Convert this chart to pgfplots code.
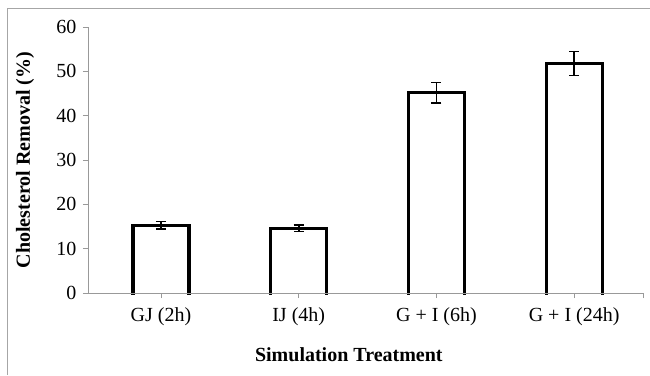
\documentclass[border=0pt]{standalone}
\usepackage{fontspec}
\setmainfont{Liberation Serif}
\usepackage{pgfplots}
\pgfplotsset{compat=1.18}
\begin{document}
\begin{tikzpicture}[x=1pt,y=1pt]
\useasboundingbox (0,0) rectangle (650,375);
\draw[gray!70, line width=1pt] (7,0) -- (7,366) -- (650,366);
\begin{axis}[
  at={(88pt,82pt)}, anchor=south west,
  scale only axis, width=555pt, height=266pt,
  ymin=0, ymax=60, ytick={0,10,...,60},
  xmin=-0.53, xmax=3.5,
  xtick={0,1,2,3},
  xticklabels={GJ (2h), IJ (4h), G + I (6h), G + I (24h)},
  extra x ticks={3.5}, extra x tick labels={},
  axis x line=bottom, axis y line=left,
  axis line style={gray!80, line width=0.8pt, -},
  tick style={gray!80, line width=0.8pt},
  major tick length=5pt,
  xtick align=outside, ytick align=outside,
  tick label style={font=\fontsize{20}{22}\selectfont},
  /pgf/number format/assume math mode=true,
  xticklabel style={yshift=-6pt},
  yticklabel style={xshift=-3pt},
  xlabel={\textbf{Simulation Treatment}},
  ylabel={\textbf{Cholesterol Removal (\%)}},
  label style={font=\fontsize{20}{22}\selectfont},
  xlabel style={at={(axis description cs:0.47,0)}, anchor=center, yshift=-62pt},
  ylabel style={at={(axis description cs:-0.1135,0.5)}, anchor=center},
  clip=false,
]
\addplot[ybar, bar width=56pt, fill=white, draw=black, line width=3.2pt,
  error bars/.cd, y dir=both, y explicit,
  error bar style={line width=1.6pt, black},
  error mark options={rotate=90, mark size=5pt, line width=1.6pt, black}]
  coordinates {
    (0,15.3) +- (0,0.8)
    (1,14.6) +- (0,0.7)
    (2,45.2) +- (0,2.3)
    (3,51.8) +- (0,2.7)
  };
% open bottoms of bars: axis line shows through
\pgfplotsinvokeforeach{0,1,2,3}{
  \fill[white] ([xshift=-26.4pt,yshift=-1.7pt]axis cs:#1,0) rectangle ([xshift=26.4pt,yshift=1.7pt]axis cs:#1,0);
  \draw[gray!80, line width=0.8pt] (axis cs:#1,0) -- ([yshift=-5pt]axis cs:#1,0);
}
\draw[gray!80, line width=0.8pt] (axis cs:-0.53,0) -- (axis cs:3.5,0);
\end{axis}
\end{tikzpicture}
\end{document}
